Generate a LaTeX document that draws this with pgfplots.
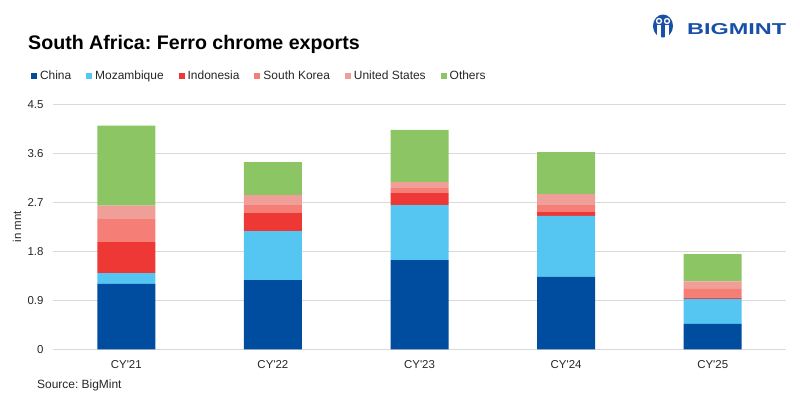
\documentclass[border=0pt]{standalone}
\usepackage{fontspec}
\setmainfont{Liberation Sans}
\usepackage{graphicx}
\usepackage{pgfplots}
\usepackage{pgfplotstable}
\pgfplotsset{compat=1.18}
\frenchspacing

\definecolor{cChina}{HTML}{004C9F}
\definecolor{cMoz}{HTML}{55C5F1}
\definecolor{cIndo}{HTML}{EE3835}
\definecolor{cSK}{HTML}{F57F77}
\definecolor{cUS}{HTML}{F09E98}
\definecolor{cOth}{HTML}{8CC564}
\definecolor{gridc}{HTML}{D9D9D9}
\definecolor{txt}{HTML}{262626}
\definecolor{logo}{HTML}{1A4FA8}

\pgfplotstableread{
x China Moz Indo SK US Oth
0 1.20 0.20 0.57 0.42 0.25 1.47
1 1.27 0.90 0.33 0.15 0.18 0.61
2 1.64 1.01 0.22 0.09 0.11 0.96
3 1.33 1.12 0.07 0.13 0.20 0.77
4 0.465 0.46 0.024 0.16 0.14 0.50
}\data

\begin{document}
\frenchspacing
\begin{tikzpicture}[x=1bp,y=1bp]
\path[use as bounding box] (0,0) rectangle (800,-399);

% title
\node[anchor=base west, inner sep=0, text=black, font=\fontsize{19.7}{22}\selectfont\bfseries] at (28,-49) {South Africa: Ferro chrome exports};

% logo
\fill[logo] (663,-26) ellipse (10 and 11.5);
\fill[white] (659,-21) circle (3.2);
\fill[white] (667,-21) circle (3.2);
\fill[logo] (659,-21) circle (1.8);
\fill[logo] (667,-21) circle (1.8);
\fill[white] (657,-25) rectangle (661,-38);
\fill[white] (665,-25) rectangle (669,-38);
\node[anchor=base west, inner sep=0, text=logo] at (687,-34) {\resizebox{99bp}{11bp}{\bfseries BIGMINT}};

% source
\node[anchor=base west, inner sep=0, text=txt, font=\fontsize{12}{14}\selectfont] at (37,-388) {Source: BigMint};

\begin{axis}[
  at={(53bp,-349.3bp)}, anchor=south west,
  scale only axis, width=733bp, height=245bp,
  xmin=-0.5, xmax=4.5, ymin=0, ymax=4.5,
  ybar stacked, bar width=58bp,
  axis line style={draw=none},
  major tick length=0pt,
  ymajorgrids, grid style={gridc, line width=1bp},
  ytick={0,0.9,1.8,2.7,3.6,4.5},
  yticklabels={0,0.9,1.8,2.7,3.6,4.5},
  xtick={0,1,2,3,4},
  xticklabels={CY\textquotesingle21,CY\textquotesingle22,CY\textquotesingle23,CY\textquotesingle24,CY\textquotesingle25},
  ticklabel style={font=\fontsize{11.5}{13}\selectfont, text=txt},
  yticklabel style={xshift=-6bp},
  xticklabel style={yshift=-8bp},
  ylabel={in mnt},
  ylabel style={at={(axis description cs:-0.049,0.5)}, anchor=center, font=\fontsize{11.5}{13}\selectfont, text=txt},
  legend columns=-1,
  legend style={at={(-0.030,1.1155)}, anchor=west, draw=none, fill=none, inner sep=0pt, outer sep=0pt,
    font=\fontsize{12}{14}\selectfont, text=txt,
    /tikz/every odd column/.append style={column sep=1bp},
    /tikz/every even column/.append style={column sep=13bp}},
  legend image code/.code={\fill[#1] (0bp,-3bp) rectangle (6bp,3bp);},
]
\addplot[fill=cChina, draw=none] table[x=x,y=China]{\data};
\addplot[fill=cMoz, draw=none] table[x=x,y=Moz]{\data};
\addplot[fill=cIndo, draw=none] table[x=x,y=Indo]{\data};
\addplot[fill=cSK, draw=none] table[x=x,y=SK]{\data};
\addplot[fill=cUS, draw=none] table[x=x,y=US]{\data};
\addplot[fill=cOth, draw=none] table[x=x,y=Oth]{\data};
\legend{China,Mozambique,Indonesia,South Korea,United States,Others}
\end{axis}
\end{tikzpicture}
\end{document}
